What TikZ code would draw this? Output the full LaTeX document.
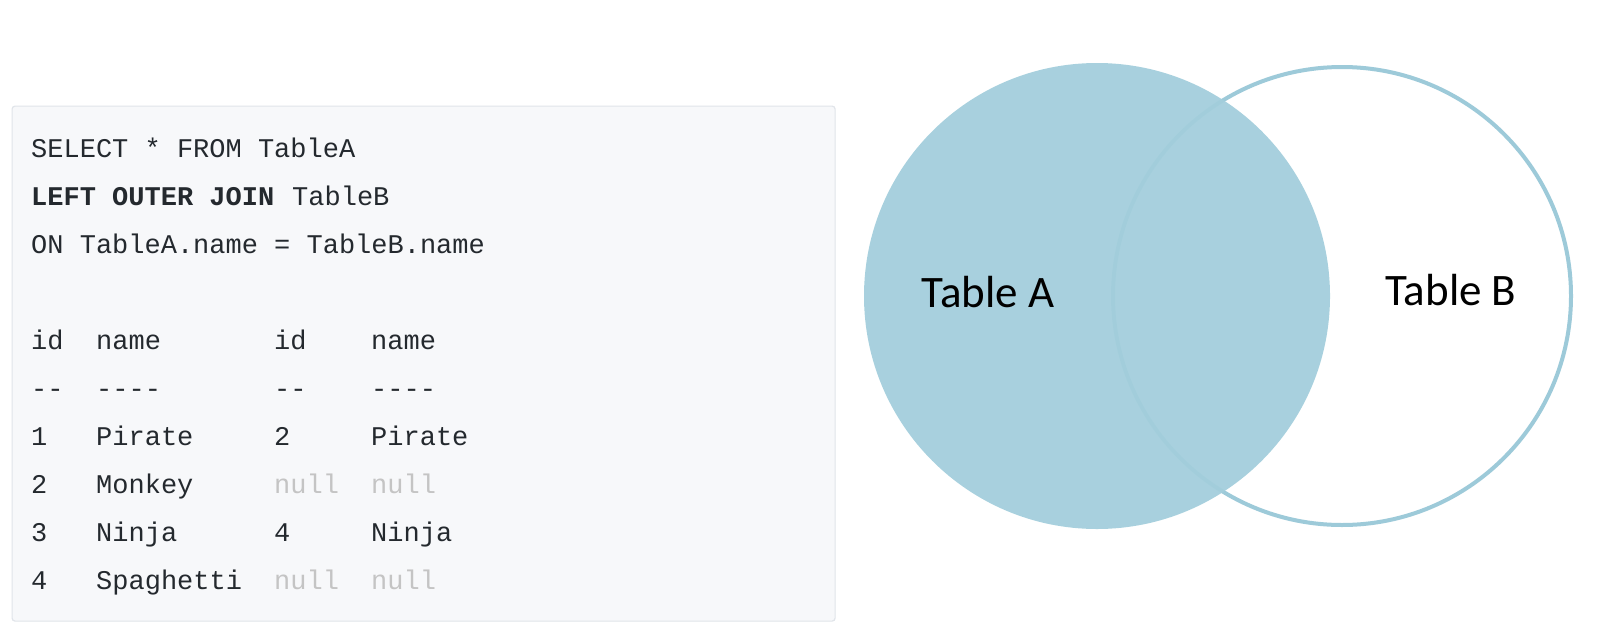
\documentclass[tikz,border=0pt]{standalone}
\usepackage{fontspec}
\setmonofont{Liberation Mono}
\newfontfamily\calib{Carlito}
\definecolor{codetxt}{HTML}{24292E}
\definecolor{nullgrey}{HTML}{C4C4C4}
\definecolor{boxfill}{HTML}{F7F8FA}
\definecolor{boxline}{HTML}{E1E5EA}
\definecolor{venn}{HTML}{A3CEDC}
\definecolor{vennline}{HTML}{9DCAD9}
\begin{document}
\begin{tikzpicture}[x=1pt,y=-1pt,
  code/.style={anchor=base west,inner sep=0pt,text=codetxt,font=\fontsize{27}{27}\selectfont\ttfamily},
  nulltxt/.style={code,text=nullgrey},
  lbl/.style={inner sep=0pt,font=\fontsize{45}{45}\selectfont\calib,text=black}]
\useasboundingbox (0,0) rectangle (1600,640);
\fill[white] (0,0) rectangle (1600,640);
% code box
\node[draw=boxline,fill=boxfill,line width=1.2pt,rounded corners=3pt,minimum width=823pt,minimum height=515pt,anchor=north west,inner sep=0pt] (box) at (11.5,105.5) {};
% query lines (baselines)
\node[code] (q1) at (31,157) {SELECT * FROM TableA};
\node[code] (q2a) at (31,205) {\bfseries LEFT OUTER JOIN};
\node[code] (q2b) at (292,205) {TableB};
\node[code] (q3) at (31,253) {ON TableA.name = TableB.name};
% table
\node[code] (h1) at (31,349) {id};
\node[code] (h2) at (96,349) {name};
\node[code] (h3) at (274,349) {id};
\node[code] (h4) at (371,349) {name};
\node[code] (d1) at (31,397) {--};
\node[code] (d2) at (96,397) {----};
\node[code] (d3) at (274,397) {--};
\node[code] (d4) at (371,397) {----};
\node[code] (r1a) at (31,445) {1};
\node[code] (r1b) at (96,445) {Pirate};
\node[code] (r1c) at (274,445) {2};
\node[code] (r1d) at (371,445) {Pirate};
\node[code] (r2a) at (31,493) {2};
\node[code] (r2b) at (96,493) {Monkey};
\node[nulltxt] (r2c) at (274,493) {null};
\node[nulltxt] (r2d) at (371,493) {null};
\node[code] (r3a) at (31,541) {3};
\node[code] (r3b) at (96,541) {Ninja};
\node[code] (r3c) at (274,541) {4};
\node[code] (r3d) at (371,541) {Ninja};
\node[code] (r4a) at (31,589) {4};
\node[code] (r4b) at (96,589) {Spaghetti};
\node[nulltxt] (r4c) at (274,589) {null};
\node[nulltxt] (r4d) at (371,589) {null};
% venn
\node[circle,draw=vennline,line width=4pt,minimum size=458pt,inner sep=0pt] (B) at (1342,296) {};
\node[circle,fill=venn,fill opacity=0.94,minimum size=466pt,inner sep=0pt] (A) at (1097,296) {};
\node[lbl] (la) at (988,292) {Table A};
\node[lbl] (lb) at (1451,290) {Table B};
\end{tikzpicture}
\end{document}
